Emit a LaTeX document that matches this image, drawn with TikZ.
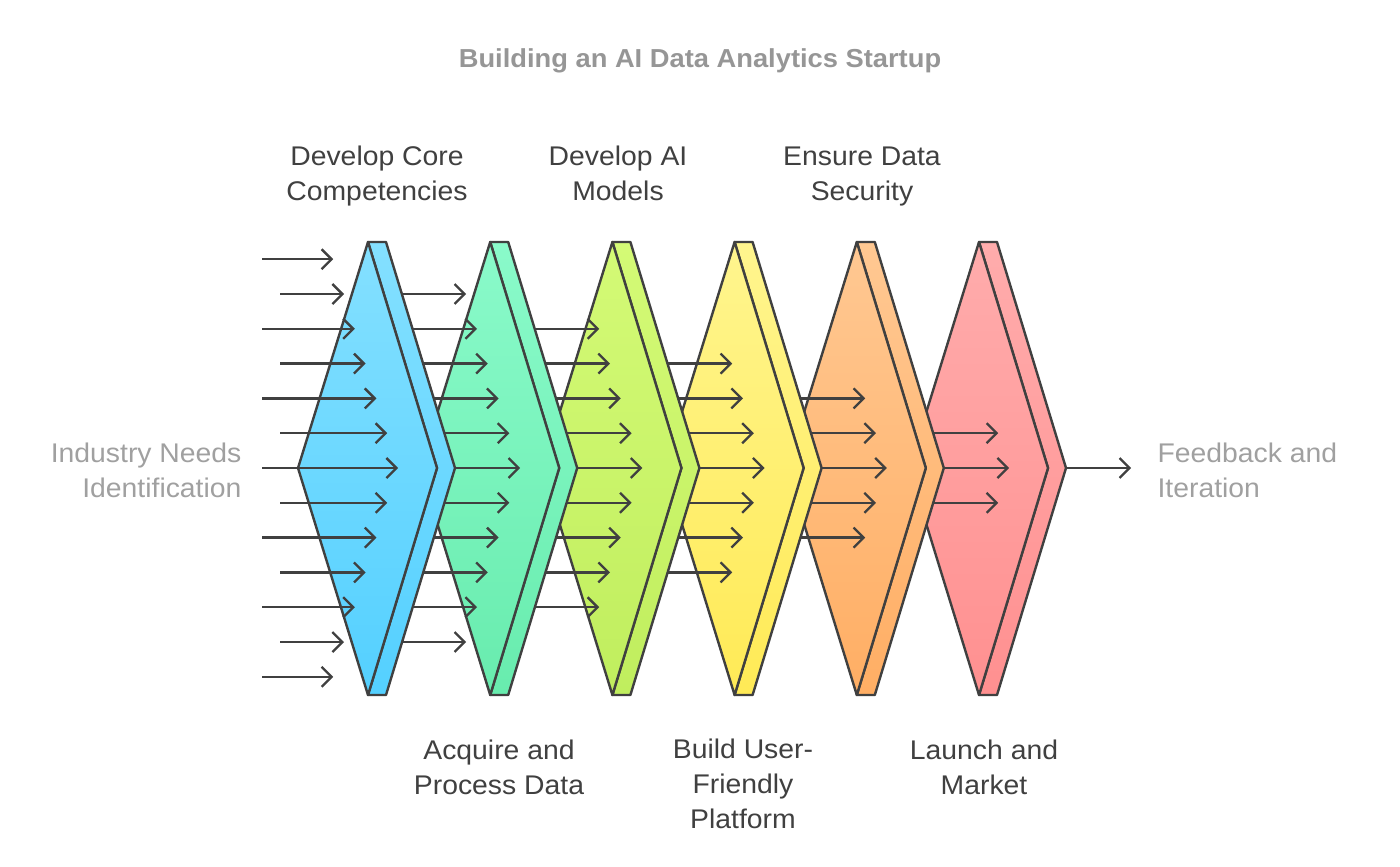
\documentclass[tikz,border=0pt]{standalone}
\usepackage{fontspec}
\setmainfont{Liberation Sans}[FakeStretch=1.05]
\usetikzlibrary{arrows.meta}
\definecolor{ln}{RGB}{64,64,64}
\definecolor{sidegray}{RGB}{160,160,160}
\definecolor{titlegray}{RGB}{150,150,150}
\definecolor{top0}{RGB}{132,224,255}
\definecolor{bot0}{RGB}{84,208,255}
\definecolor{top1}{RGB}{138,250,202}
\definecolor{bot1}{RGB}{104,236,174}
\definecolor{top2}{RGB}{212,250,118}
\definecolor{bot2}{RGB}{192,238,94}
\definecolor{top3}{RGB}{255,245,142}
\definecolor{bot3}{RGB}{255,234,86}
\definecolor{top4}{RGB}{255,200,146}
\definecolor{bot4}{RGB}{255,174,100}
\definecolor{top5}{RGB}{255,172,172}
\definecolor{bot5}{RGB}{255,144,144}
\begin{document}
\begin{tikzpicture}[x=1pt,y=-1pt,
  edge/.style={draw=ln, line width=2.4pt, line join=round},
  flow/.style={draw=ln, line width=2.3pt, -{Straight Barb[length=10pt,width=20pt,line width=2.3pt]}},
  lab/.style={text=ln, font=\fontsize{27}{35}\selectfont, align=center},
  side/.style={text=sidegray, font=\fontsize{27}{35}\selectfont}]
\useasboundingbox (0,0) rectangle (1400,867);
\node[text=titlegray, font=\fontsize{26}{32}\selectfont\bfseries] (title) at (700,61) {Building an AI Data Analytics Startup};
\foreach \i in {6,5,...,0}{
  \pgfmathsetmacro\dx{122.2*\i}
  \ifnum\i<6
    \shade[top color=top\i, bottom color=bot\i, edge]
      (368+\dx,242) -- (386+\dx,242) -- (455+\dx,468) -- (386+\dx,695) -- (368+\dx,695) -- (437+\dx,468) -- cycle;
    \shade[top color=top\i, bottom color=bot\i, edge]
      (298+\dx,468) -- (368+\dx,242) -- (437+\dx,468) -- (368+\dx,695) -- cycle;
  \fi
  \pgfmathtruncatemacro\n{6-\i}
  \pgfmathtruncatemacro\m{2*\n}
  \foreach \k in {0,...,\m}{
    \pgfmathtruncatemacro\a{abs(\k-\n)}
    \pgfmathsetmacro\yy{468+34.8*(\k-\n)}
    \pgfmathsetmacro\xs{ifthenelse(mod(\a,2)==0,262,280)+\dx}
    \pgfmathsetmacro\xe{398-10.8*\a+\dx}
    \coordinate (s\i-\k) at (\xs,\yy);
    \coordinate (e\i-\k) at (\xe,\yy);
    \draw[flow] (s\i-\k) -- (e\i-\k);
  }
}
\node[lab] (l1) at (377,176) {Develop Core\\Competencies};
\node[lab] (l3) at (618,173) {Develop AI\\Models};
\node[lab] (l5) at (862,177) {Ensure Data\\Security};
\node[lab] (l2) at (499,767) {Acquire and\\Process Data};
\node[lab] (l4) at (743,784) {Build User-\\Friendly\\Platform};
\node[lab] (l6) at (984,767) {Launch and\\Market};
\node[side, align=right, anchor=east] (in) at (245,470) {Industry Needs\\Identification};
\node[side, align=left, anchor=west] (out) at (1154,470) {Feedback and\\Iteration};
\end{tikzpicture}
\end{document}
